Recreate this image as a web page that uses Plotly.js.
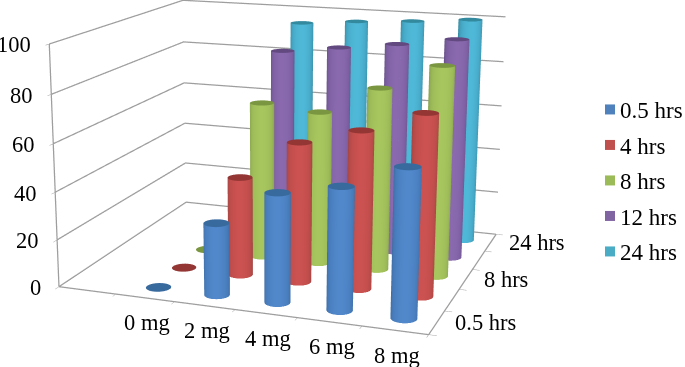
<!DOCTYPE html><html><head><meta charset="utf-8">
<script src="https://cdn.plot.ly/plotly-3.0.1.min.js"></script>
<style>html,body{margin:0;padding:0;width:685px;height:367px;overflow:hidden;background:#fff}
#chart{position:absolute;left:-306px;top:-412px;width:1146px;height:1146px}</style></head><body><div id="chart"></div>
<script>
const categories=['','0 mg','2 mg','4 mg','6 mg','8 mg'];
const seriesNames=['0.5 hrs','4 hrs','8 hrs','12 hrs','24 hrs'];
const depthLabels=['0.5 hrs','','8 hrs','','24 hrs'];
const valueTicks=[0,20,40,60,80,100];
const hrs05=[0,30,45,50,60];
const hrs4=[0,42,59,66,75];
const hrs8=[0,68,66,78,89];
const hrs12=[0,86,89,92,95.5];
const hrs24=[0,94.5,96.5,98,100];
const seriesValues=[hrs05,hrs4,hrs8,hrs12,hrs24];
const centerColors=['#5088CB','#CB5250','#A8C65E','#8A69AF','#4FB8D8'];
const edgeColors=['#38659A','#96403D','#7C9A45','#5F4A80','#2F8096'];
const capColors=['#396A9E','#933634','#7A9640','#62497F','#338A9F'];
const swatchColors=['#4F81BD','#C0504D','#9BBB59','#8064A2','#4BACC6'];
const W=1146,H=1146,LEFT=-306,TOP=-412,GRID='#9e9e9e';
const XMAX=categories.length,YMAX=seriesNames.length,ZMAX=valueTicks[valueTicks.length-1];
const hex=c=>[1,3,5].map(i=>parseInt(c.substr(i,2),16));
const mix=(a,b,t)=>{const A=hex(a),B=hex(b);return 'rgb('+A.map((v,i)=>Math.round(v+(B[i]-v)*t)).join(',')+')'};
const RADIUS=0.2,SEG=36,VIEW=[0.325,-0.946];
function cylinders(values,s){
  const m={x:[],y:[],z:[],i:[],j:[],k:[],c:[]};
  values.forEach((h,n)=>{
    const cx=n+1.5,cy=s+0.5,b=m.x.length;
    for(let a=0;a<SEG;a++){
      const t=2*Math.PI*a/SEG,nx=Math.cos(t),ny=Math.sin(t);
      const shade=Math.pow(Math.max(0,nx*VIEW[0]+ny*VIEW[1]),0.7);
      const col=mix(edgeColors[s],centerColors[s],shade);
      [0,h].forEach(z=>{m.x.push(cx+RADIUS*nx);m.y.push(cy+RADIUS*ny);m.z.push(z);m.c.push(col)});
      const a2=(a+1)%SEG;
      m.i.push(b+2*a,b+2*a+1);m.j.push(b+2*a2,b+2*a2);m.k.push(b+2*a+1,b+2*a2+1);
    }
    const c0=m.x.length;m.x.push(cx);m.y.push(cy);m.z.push(h);m.c.push(capColors[s]);
    for(let a=0;a<SEG;a++){const t=2*Math.PI*a/SEG;m.x.push(cx+RADIUS*Math.cos(t));m.y.push(cy+RADIUS*Math.sin(t));m.z.push(h);m.c.push(capColors[s]);
      m.i.push(c0);m.j.push(c0+1+a);m.k.push(c0+1+(a+1)%SEG);}
  });
  return m;
}
const gx=[],gy=[],gz=[];
const seg=(p)=>{p.forEach(q=>{gx.push(q[0]);gy.push(q[1]);gz.push(q[2])});gx.push(null);gy.push(null);gz.push(null)};
valueTicks.forEach(v=>seg([[0,0,v],[0,YMAX,v],[XMAX,YMAX,v]]));
seg([[0,0,0],[0,0,ZMAX]]);
seg([[0,0,0],[XMAX,0,0],[XMAX,YMAX,0]]);
const traces=[{type:'scatter3d',mode:'lines',x:gx,y:gy,z:gz,line:{width:2.5,color:GRID},showlegend:false,hoverinfo:'skip'}];
seriesValues.forEach((vals,s)=>{
  const m=cylinders(vals,s);
  traces.push({type:'mesh3d',x:m.x,y:m.y,z:m.z,i:m.i,j:m.j,k:m.k,vertexcolor:m.c,showlegend:false,hoverinfo:'skip',
    flatshading:false,lighting:{ambient:1,diffuse:0,specular:0,fresnel:0,roughness:1},showscale:false});
  traces.push({type:'scatter3d',mode:'markers',x:[null],y:[null],z:[null],name:seriesNames[s],showlegend:true,
    marker:{symbol:'square',size:10,color:swatchColors[s]},hoverinfo:'skip',legendgroup:seriesNames[s]});
});
const font={family:'"Liberation Serif",serif',size:22.5,color:'#000'};
const notes=[];
valueTicks.forEach(v=>notes.push({x:0,y:0,z:v,text:String(v),showarrow:false,xanchor:'right',yanchor:'middle',xshift:-16,yshift:-1,font}));
categories.forEach((c,i)=>{if(c)notes.push({x:i+0.5,y:0,z:0,text:c,showarrow:false,xanchor:'center',yanchor:'middle',xshift:2,yshift:-25,font})});
depthLabels.forEach((c,i)=>{if(c)notes.push({x:XMAX,y:i+0.5,z:0,text:c,showarrow:false,xanchor:'left',yanchor:'middle',xshift:16,yshift:0,font})});
const axisBase={showbackground:false,showspikes:false,zeroline:false,showticklabels:false,showline:false,showgrid:false,
  ticks:'outside',ticklen:6,tickcolor:GRID,title:{text:''}};
const layout={width:W,height:H,margin:{l:0,r:0,t:0,b:0},paper_bgcolor:'#fff',hovermode:false,showlegend:true,
  legend:{x:(580-LEFT)/W,xanchor:'left',y:1-(88-TOP)/H,yanchor:'top',font:{family:font.family,size:23,color:'#000'},tracegroupgap:2.6,traceorder:'grouped',bgcolor:'rgba(0,0,0,0)'},
  scene:{domain:{x:[0,1],y:[0,1]},aspectmode:'manual',aspectratio:{x:1.54,y:1.313,z:1},
    camera:{eye:{x:1.847,y:-5.378,z:1.408},center:{x:-0.088,y:-0.05,z:-0.058},up:{x:0,y:0,z:1},projection:{type:'perspective'}},
    xaxis:Object.assign({},axisBase,{range:[0,XMAX],tickvals:categories.map((c,i)=>i).concat([XMAX])}),
    yaxis:Object.assign({},axisBase,{range:[0,YMAX],tickvals:seriesNames.map((c,i)=>i).concat([YMAX])}),
    zaxis:Object.assign({},axisBase,{range:[0,ZMAX],tickvals:valueTicks}),
    annotations:notes}};
Plotly.newPlot('chart',traces,layout,{displayModeBar:false,responsive:false}).then(()=>{
  document.querySelectorAll('.legend .legendsymbols').forEach(g=>g.setAttribute('transform','translate(10,0)'));
});
</script></body></html>
